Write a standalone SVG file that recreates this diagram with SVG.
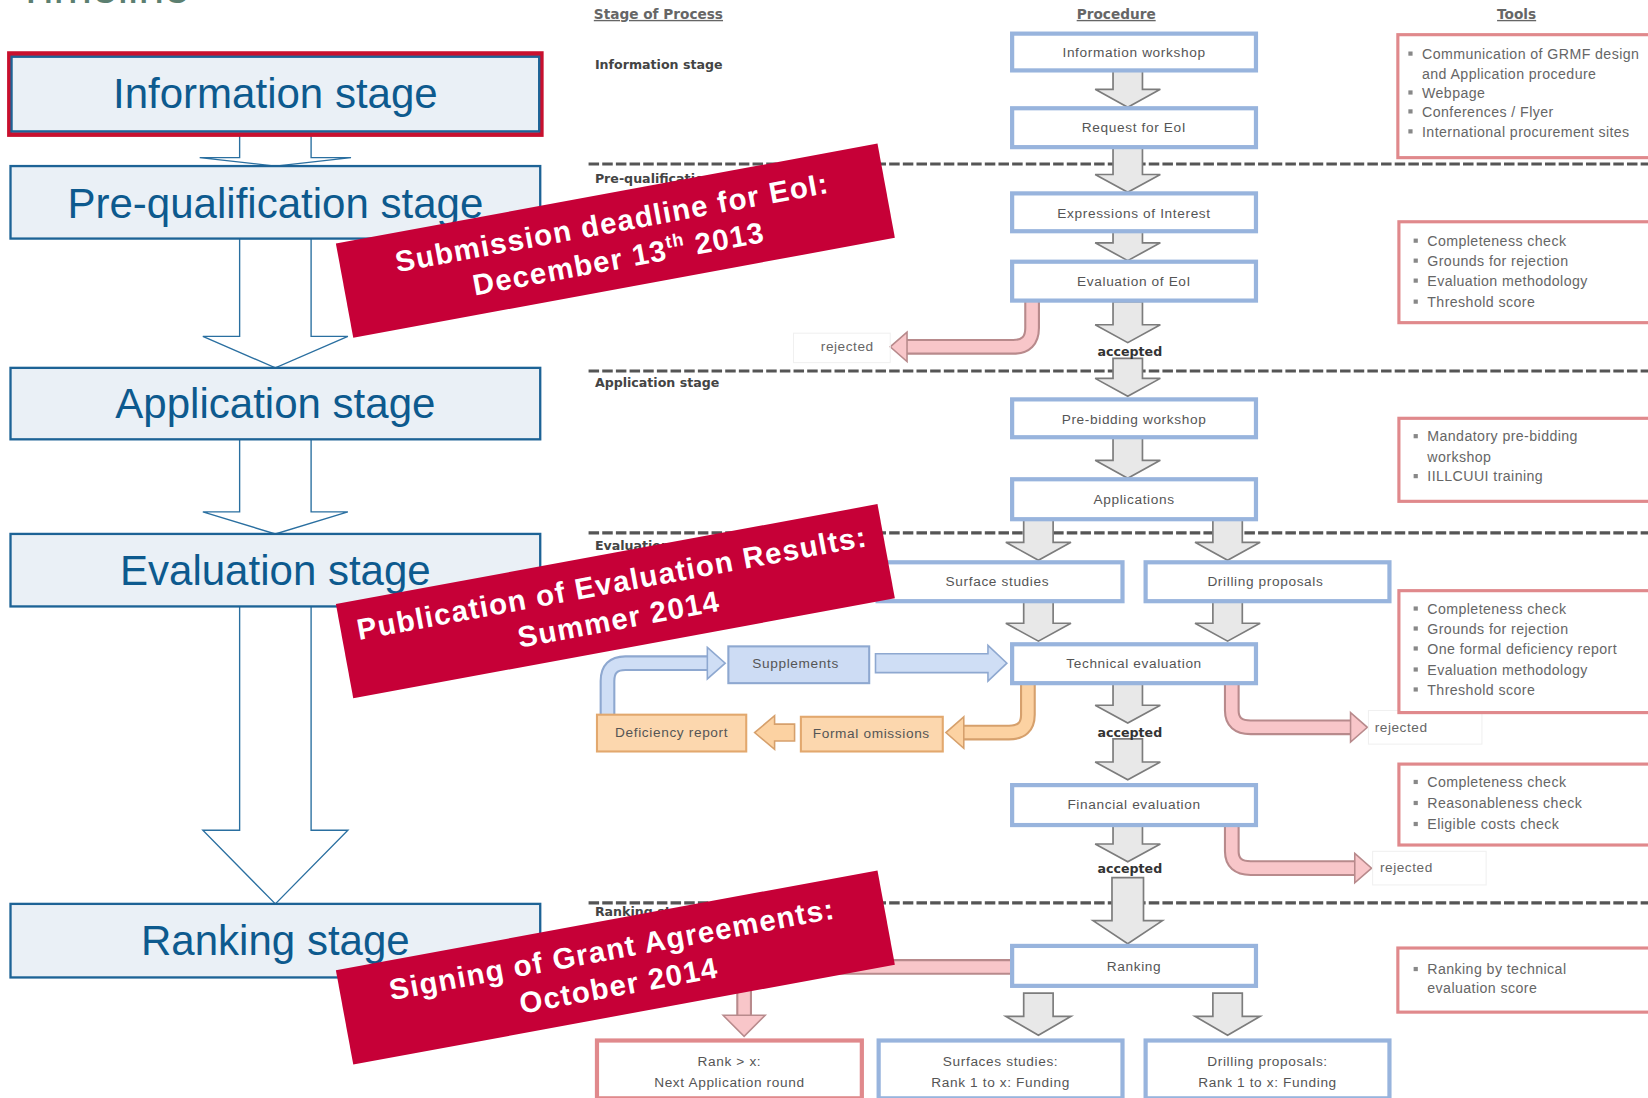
<svg xmlns="http://www.w3.org/2000/svg" width="1648" height="1098" viewBox="0 0 1648 1098">
<style>
.stg{fill:#eaf0f6;stroke:#1d6396;stroke-width:2.2}
.stgt{font-family:"Liberation Sans",Arial,sans-serif;font-size:40px;fill:#0d5a8e;text-anchor:middle}
.barw{fill:#ffffff;stroke:#2a6fa0;stroke-width:1.3}
.ban{fill:#c60037}
.bant{font-family:"Liberation Sans",Arial,sans-serif;font-weight:bold;font-size:28px;fill:#ffffff;text-anchor:middle;letter-spacing:1.2px}
.hdr{font-family:"DejaVu Sans",sans-serif;font-weight:bold;font-size:13px;fill:#666;text-decoration:underline}
.lab{font-family:"DejaVu Sans",sans-serif;font-weight:bold;font-size:12px;fill:#444}
.dash{stroke:#555;stroke-width:3;stroke-dasharray:10 3;fill:none}
.pb{fill:#ffffff;stroke:#98b4dd;stroke-width:4}
.pt{font-family:"Liberation Sans",Arial,sans-serif;font-size:13px;fill:#555;text-anchor:middle;letter-spacing:0.6px}
.ga{fill:#e8e8e8;stroke:#7c7c7c;stroke-width:1.6}
.tb{fill:#ffffff;stroke:#e0898c;stroke-width:3}
.tt{font-family:"Liberation Sans",Arial,sans-serif;font-size:13.5px;fill:#666;letter-spacing:0.4px}
.bul{fill:#888}
.acc{font-family:"DejaVu Sans",sans-serif;font-weight:bold;font-size:12px;fill:#333;text-anchor:middle}
.rj{font-family:"Liberation Sans",Arial,sans-serif;font-size:13px;fill:#666;letter-spacing:0.5px}
.pko{fill:none;stroke:#b88a8c;stroke-width:15}
.pki{fill:none;stroke:#f8c6c9;stroke-width:11}
.pkh{fill:#f8c6c9;stroke:#b88a8c;stroke-width:1.5}
.oro{fill:none;stroke:#d6a06c;stroke-width:15}
.ori{fill:none;stroke:#fcd2a2;stroke-width:11}
.orh{fill:#fcd2a2;stroke:#d6a06c;stroke-width:1.5}
.blo{fill:none;stroke:#8ea8d0;stroke-width:15}
.bli{fill:none;stroke:#cfdef5;stroke-width:11}
.blh{fill:#cfdef5;stroke:#8ea8d0;stroke-width:1.5}
.faint{fill:none;stroke:#f0f0f0;stroke-width:1}
</style>
<rect width="1648" height="1098" fill="#ffffff"/>
<g transform="scale(1.05102)">
<text x="16" y="3" font-family="Liberation Sans, Arial, sans-serif" font-size="44" fill="#5c7f70">Timeline</text>

<g id="left-connectors">
<path class="barw" d="M228 127 V150 H190 L262 158 L334 150 H296 V127 Z"/>
<path class="barw" d="M228 227 V320 H193 L262 350 L331 320 H296 V227 Z"/>
<path class="barw" d="M228 418 V487 H193 L262 508 L331 487 H296 V418 Z"/>
<path class="barw" d="M228 577 V790 H193 L262 860 L331 790 H296 V577 Z"/>
</g>

<g id="stage-information">
<rect x="9" y="51" width="506" height="77" fill="none" stroke="#c8102e" stroke-width="4.5"/>
<rect class="stg" x="11" y="54" width="502" height="71"/>
<text class="stgt" x="262" y="103">Information stage</text>
</g>
<g id="stage-prequalification">
<rect class="stg" x="10" y="158" width="504" height="69"/>
<text class="stgt" x="262" y="207">Pre-qualification stage</text>
</g>
<g id="stage-application">
<rect class="stg" x="10" y="350" width="504" height="68"/>
<text class="stgt" x="262" y="398">Application stage</text>
</g>
<g id="stage-evaluation">
<rect class="stg" x="10" y="508" width="504" height="69"/>
<text class="stgt" x="262" y="557">Evaluation stage</text>
</g>
<g id="stage-ranking">
<rect class="stg" x="10" y="860" width="504" height="70"/>
<text class="stgt" x="262" y="909">Ranking stage</text>
</g>

<g id="headers">
<text class="hdr" x="565" y="18">Stage of Process</text>
<text class="hdr" x="1062" y="18" text-anchor="middle" fill="#444">Procedure</text>
<text class="hdr" x="1443" y="18" text-anchor="middle">Tools</text>
<text class="lab" x="566" y="66">Information stage</text>
<text class="lab" x="566" y="174">Pre-qualification stage</text>
<text class="lab" x="566" y="368">Application stage</text>
<text class="lab" x="566" y="523">Evaluation stage</text>
<text class="lab" x="566" y="872">Ranking stage</text>
</g>

<g id="separators">
<line class="dash" x1="560" y1="156" x2="1568" y2="156"/>
<line class="dash" x1="560" y1="353" x2="1568" y2="353"/>
<line class="dash" x1="560" y1="507" x2="1568" y2="507"/>
<line class="dash" x1="560" y1="859" x2="1568" y2="859"/>
</g>

<g id="connectors">
<path class="ga" d="M1059 67V85H1042L1073 102L1104 85H1087V67Z"/>
<path class="ga" d="M1059 140V166H1042L1073 183L1104 166H1087V140Z"/>
<path class="ga" d="M1059 220V231H1042L1073 248L1104 231H1087V220Z"/>
<path class="ga" d="M1059 287V309H1042L1073 326L1104 309H1087V287Z"/>
<path class="ga" d="M1059 341V360H1042L1073 377L1104 360H1087V341Z"/>
<path class="ga" d="M1059 416V438H1042L1073 455L1104 438H1087V416Z"/>
<path class="ga" d="M974 494V516H957L988 533L1019 516H1002V494Z"/>
<path class="ga" d="M1154 494V516H1137L1168 533L1199 516H1182V494Z"/>
<path class="ga" d="M974 572V593H957L988 610L1019 593H1002V572Z"/>
<path class="ga" d="M1154 572V593H1137L1168 610L1199 593H1182V572Z"/>
<path class="ga" d="M1059 650V671H1042L1073 688L1104 671H1087V650Z"/>
<path class="ga" d="M1059 703V725H1042L1073 742L1104 725H1087V703Z"/>
<path class="ga" d="M1059 785V803H1042L1073 820L1104 803H1087V785Z"/>
<path class="ga" d="M1058 835V876H1040L1073 898L1106 876H1088V835Z"/>
<path class="ga" d="M974 945V967H957L988 985L1019 967H1002V945Z"/>
<path class="ga" d="M1154 945V967H1137L1168 985L1199 967H1182V945Z"/>

<path class="pko" d="M982 287V312Q982 330 964 330H862"/>
<path class="pki" d="M982 287V312Q982 330 964 330H862"/>
<path class="pkh" d="M863 316L847 330L863 344Z"/>
<path class="pko" d="M1172 650V676Q1172 692 1190 692H1286"/>
<path class="pki" d="M1172 650V676Q1172 692 1190 692H1286"/>
<path class="pkh" d="M1285 678L1301 692L1285 706Z"/>
<path class="pko" d="M1172 785V810Q1172 826 1190 826H1290"/>
<path class="pki" d="M1172 785V810Q1172 826 1190 826H1290"/>
<path class="pkh" d="M1289 812L1305 826L1289 840Z"/>
<path class="pko" d="M961 920H724Q708 920 708 936V966" stroke-width="22"/>
<path class="pki" d="M961 920H724Q708 920 708 936V966" stroke-width="18"/>
<path class="pkh" d="M688 966L708 986L728 966Z"/>

<path class="oro" d="M978 650V680Q978 697 960 697H916"/>
<path class="ori" d="M978 650V680Q978 697 960 697H916"/>
<path class="orh" d="M917 682L900 697L917 712Z"/>
<path class="orh" d="M756 689H737V681L718 697L737 713V705H756Z"/>

<path class="blo" d="M578 680V648Q578 631 595 631H674"/>
<path class="bli" d="M578 680V648Q578 631 595 631H674"/>
<path class="blh" d="M673 616L690 631L673 646Z"/>
<path class="blh" d="M833 622H940V614L958 631L940 648V640H833Z"/>

<rect class="faint" x="755" y="317" width="92" height="28"/>
<text class="rj" x="781" y="334">rejected</text>
<rect class="faint" x="1302" y="676" width="108" height="32"/>
<text class="rj" x="1308" y="696">rejected</text>
<rect class="faint" x="1306" y="810" width="108" height="32"/>
<text class="rj" x="1313" y="830">rejected</text>
<text class="acc" x="1075" y="339">accepted</text>
<text class="acc" x="1075" y="701">accepted</text>
<text class="acc" x="1075" y="831">accepted</text>
</g>

<g id="p-info-workshop"><rect class="pb" x="963" y="32" width="232" height="35"/><text class="pt" x="1079" y="54">Information workshop</text></g>
<g id="p-request-eoi"><rect class="pb" x="963" y="103" width="232" height="37"/><text class="pt" x="1079" y="126">Request for EoI</text></g>
<g id="p-expressions"><rect class="pb" x="963" y="184" width="232" height="36"/><text class="pt" x="1079" y="207">Expressions of Interest</text></g>
<g id="p-eval-eoi"><rect class="pb" x="963" y="249" width="232" height="37"/><text class="pt" x="1079" y="272">Evaluation of EoI</text></g>
<g id="p-prebidding"><rect class="pb" x="963" y="380" width="232" height="36"/><text class="pt" x="1079" y="403">Pre-bidding workshop</text></g>
<g id="p-applications"><rect class="pb" x="963" y="456" width="232" height="38"/><text class="pt" x="1079" y="480">Applications</text></g>
<g id="p-surface"><rect class="pb" x="835" y="535" width="233" height="37"/><text class="pt" x="949" y="558">Surface studies</text></g>
<g id="p-drilling"><rect class="pb" x="1090" y="535" width="232" height="37"/><text class="pt" x="1204" y="558">Drilling proposals</text></g>
<g id="p-technical"><rect class="pb" x="963" y="613" width="232" height="37"/><text class="pt" x="1079" y="636">Technical evaluation</text></g>
<g id="p-supplements"><rect x="693" y="615" width="134" height="35" fill="#cddcf4" stroke="#8ea8d0" stroke-width="2"/><text class="pt" x="757" y="636">Supplements</text></g>
<g id="p-formal"><rect x="762" y="682" width="135" height="33" fill="#fcd7ae" stroke="#e2a86e" stroke-width="2"/><text class="pt" x="829" y="702">Formal omissions</text></g>
<g id="p-deficiency"><rect x="568" y="680" width="142" height="35" fill="#fcd7ae" stroke="#e2a86e" stroke-width="2"/><text class="pt" x="639" y="701">Deficiency report</text></g>
<g id="p-financial"><rect class="pb" x="963" y="747" width="232" height="38"/><text class="pt" x="1079" y="770">Financial evaluation</text></g>
<g id="p-ranking"><rect class="pb" x="963" y="900" width="232" height="38"/><text class="pt" x="1079" y="924">Ranking</text></g>
<g id="p-rank-next"><rect x="568" y="990" width="252" height="55" fill="#ffffff" stroke="#e0898c" stroke-width="4"/><text class="pt" x="694" y="1014">Rank &gt; x:</text><text class="pt" x="694" y="1034">Next Application round</text></g>
<g id="p-surface-fund"><rect class="pb" x="836" y="990" width="232" height="55"/><text class="pt" x="952" y="1014">Surfaces studies:</text><text class="pt" x="952" y="1034">Rank 1 to x: Funding</text></g>
<g id="p-drilling-fund"><rect class="pb" x="1090" y="990" width="232" height="55"/><text class="pt" x="1206" y="1014">Drilling proposals:</text><text class="pt" x="1206" y="1034">Rank 1 to x: Funding</text></g>

<g id="tools-information">
<rect class="tb" x="1330" y="33" width="260" height="117"/>
<rect class="bul" x="1340" y="49" width="4" height="4"/><text class="tt" x="1353" y="56">Communication of GRMF design</text>
<text class="tt" x="1353" y="75">and Application procedure</text>
<rect class="bul" x="1340" y="86" width="4" height="4"/><text class="tt" x="1353" y="93">Webpage</text>
<rect class="bul" x="1340" y="104" width="4" height="4"/><text class="tt" x="1353" y="111">Conferences / Flyer</text>
<rect class="bul" x="1340" y="123" width="4" height="4"/><text class="tt" x="1353" y="130">International procurement sites</text>
</g>
<g id="tools-prequalification">
<rect class="tb" x="1331" y="211" width="259" height="96"/>
<rect class="bul" x="1345" y="227" width="4" height="4"/><text class="tt" x="1358" y="234">Completeness check</text>
<rect class="bul" x="1345" y="246" width="4" height="4"/><text class="tt" x="1358" y="253">Grounds for rejection</text>
<rect class="bul" x="1345" y="265" width="4" height="4"/><text class="tt" x="1358" y="272">Evaluation methodology</text>
<rect class="bul" x="1345" y="285" width="4" height="4"/><text class="tt" x="1358" y="292">Threshold score</text>
</g>
<g id="tools-application">
<rect class="tb" x="1331" y="398" width="259" height="79"/>
<rect class="bul" x="1345" y="413" width="4" height="4"/><text class="tt" x="1358" y="420">Mandatory pre-bidding</text>
<text class="tt" x="1358" y="440">workshop</text>
<rect class="bul" x="1345" y="451" width="4" height="4"/><text class="tt" x="1358" y="458">IILLCUUI training</text>
</g>
<g id="tools-technical">
<rect class="tb" x="1331" y="562" width="259" height="116"/>
<rect class="bul" x="1345" y="577" width="4" height="4"/><text class="tt" x="1358" y="584">Completeness check</text>
<rect class="bul" x="1345" y="596" width="4" height="4"/><text class="tt" x="1358" y="603">Grounds for rejection</text>
<rect class="bul" x="1345" y="615" width="4" height="4"/><text class="tt" x="1358" y="622">One formal deficiency report</text>
<rect class="bul" x="1345" y="635" width="4" height="4"/><text class="tt" x="1358" y="642">Evaluation methodology</text>
<rect class="bul" x="1345" y="654" width="4" height="4"/><text class="tt" x="1358" y="661">Threshold score</text>
</g>
<g id="tools-financial">
<rect class="tb" x="1331" y="727" width="259" height="77"/>
<rect class="bul" x="1345" y="742" width="4" height="4"/><text class="tt" x="1358" y="749">Completeness check</text>
<rect class="bul" x="1345" y="762" width="4" height="4"/><text class="tt" x="1358" y="769">Reasonableness check</text>
<rect class="bul" x="1345" y="782" width="4" height="4"/><text class="tt" x="1358" y="789">Eligible costs check</text>
</g>
<g id="tools-ranking">
<rect class="tb" x="1330" y="902" width="260" height="61"/>
<rect class="bul" x="1345" y="920" width="4" height="4"/><text class="tt" x="1358" y="927">Ranking by technical</text>
<text class="tt" x="1358" y="945">evaluation score</text>
</g>

<g id="banner-eoi" transform="translate(585.5 229) rotate(-10.45)">
<rect class="ban" x="-262" y="-45.6" width="524" height="91.2"/>
<text class="bant" x="0" y="-8">Submission deadline for EoI:</text>
<text class="bant" x="0" y="27">December 13<tspan font-size="17" dy="-11">th</tspan><tspan dy="11"> 2013</tspan></text>
</g>
<g id="banner-evaluation" transform="translate(585.5 572) rotate(-10.45)">
<rect class="ban" x="-262" y="-45.6" width="524" height="91.2"/>
<text class="bant" x="0" y="-8">Publication of Evaluation Results:</text>
<text class="bant" x="0" y="27">Summer 2014</text>
</g>
<g id="banner-grant" transform="translate(585.5 920.5) rotate(-10.45)">
<rect class="ban" x="-262" y="-45.6" width="524" height="91.2"/>
<text class="bant" x="0" y="-8">Signing of Grant Agreements:</text>
<text class="bant" x="0" y="27">October 2014</text>
</g>
</g>
</svg>
